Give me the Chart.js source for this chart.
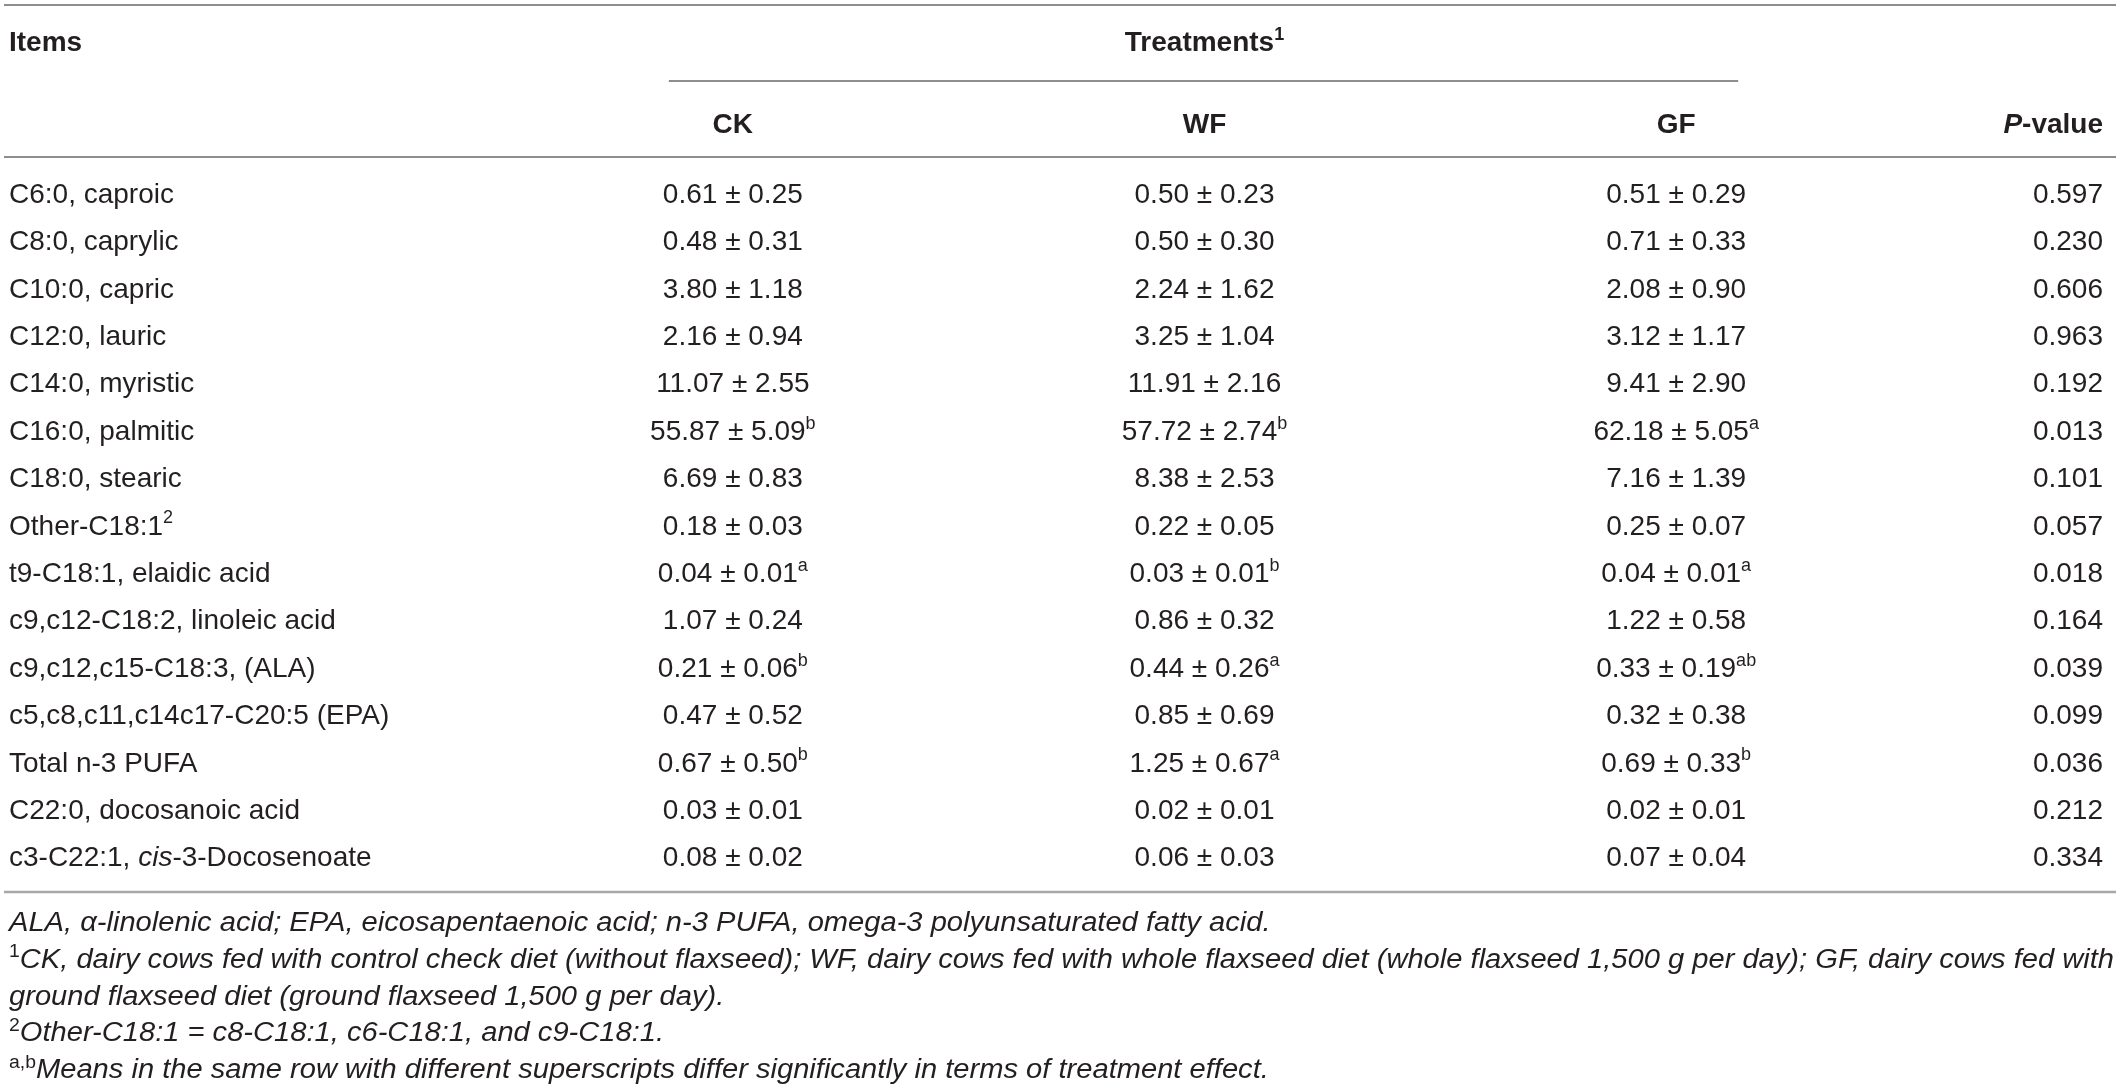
<!DOCTYPE html>
<html><head><meta charset="utf-8">
<script src="https://cdn.jsdelivr.net/npm/chart.js@4.4.1/dist/chart.umd.min.js"></script>
<style>html,body{margin:0;padding:0;background:#fff;} canvas{display:block;}</style>
</head><body>
<canvas id="c" width="2120" height="1090" style="width:2120px;height:1090px"></canvas>
<script>
// ---- data (markup: ^..^ superscript, _.._ italic, *..* bold) ----
const items = [
  'C6:0, caproic','C8:0, caprylic','C10:0, capric','C12:0, lauric','C14:0, myristic',
  'C16:0, palmitic','C18:0, stearic','Other-C18:1^2^','t9-C18:1, elaidic acid',
  'c9,c12-C18:2, linoleic acid','c9,c12,c15-C18:3, (ALA)','c5,c8,c11,c14c17-C20:5 (EPA)',
  'Total n-3 PUFA','C22:0, docosanoic acid','c3-C22:1, _cis_-3-Docosenoate'
];
const treatments = ['CK','WF','GF'];
const ckMean = [0.61,0.48,3.80,2.16,11.07,55.87,6.69,0.18,0.04,1.07,0.21,0.47,0.67,0.03,0.08];
const ckSD   = [0.25,0.31,1.18,0.94,2.55,5.09,0.83,0.03,0.01,0.24,0.06,0.52,0.50,0.01,0.02];
const ckSup  = ['','','','','','b','','','a','','b','','b','',''];
const wfMean = [0.50,0.50,2.24,3.25,11.91,57.72,8.38,0.22,0.03,0.86,0.44,0.85,1.25,0.02,0.06];
const wfSD   = [0.23,0.30,1.62,1.04,2.16,2.74,2.53,0.05,0.01,0.32,0.26,0.69,0.67,0.01,0.03];
const wfSup  = ['','','','','','b','','','b','','a','','a','',''];
const gfMean = [0.51,0.71,2.08,3.12,9.41,62.18,7.16,0.25,0.04,1.22,0.33,0.32,0.69,0.02,0.07];
const gfSD   = [0.29,0.33,0.90,1.17,2.90,5.05,1.39,0.07,0.01,0.58,0.19,0.38,0.33,0.01,0.04];
const gfSup  = ['','','','','','a','','','a','','ab','','b','',''];
const pValues = [0.597,0.230,0.606,0.963,0.192,0.013,0.101,0.057,0.018,0.164,0.039,0.099,0.036,0.212,0.334];
const headerItems = '*Items*';
const headerTreat = '*Treatments^1^*';
const headerP = '*_P_-value*';
const footnotes = [
  '_ALA, α-linolenic acid; EPA, eicosapentaenoic acid; n-3 PUFA, omega-3 polyunsaturated fatty acid._',
  '^1^_CK, dairy cows fed with control check diet (without flaxseed); WF, dairy cows fed with whole flaxseed diet (whole flaxseed 1,500 g per day); GF, dairy cows fed with_',
  '_ground flaxseed diet (ground flaxseed 1,500 g per day)._',
  '^2^_Other-C18:1 = c8-C18:1, c6-C18:1, and c9-C18:1._',
  '^a,b^_Means in the same row with different superscripts differ significantly in terms of treatment effect._'
];

const means = [ckMean, wfMean, gfMean];
const sds = [ckSD, wfSD, gfSD];
const sups = [ckSup, wfSup, gfSup];

// ---- styling ----
const FAMILY = '"Liberation Sans", Arial, Helvetica, sans-serif';
const TEXT = '#231f20';
const RULE = '#8e8e8e';
const BODY = 28, FOOT = 27;

function parse(str){
  const parts=[]; let b=false,i=false,s=false,buf='';
  const push=()=>{ if(buf){parts.push({t:buf,b,i,s}); buf='';} };
  for(const ch of str){
    if(ch==='*'){push(); b=!b;} else if(ch==='_'){push(); i=!i;} else if(ch==='^'){push(); s=!s;} else buf+=ch;
  }
  push(); return parts;
}
function fontOf(p,size){
  const sz = p.s ? Math.round(size*0.66) : size;
  return (p.i?'italic ':'')+(p.b?'bold ':'')+sz+'px '+FAMILY;
}
function measure(ctx,parts,size){
  let w=0; parts.forEach(p=>{ctx.font=fontOf(p,size); p.w=ctx.measureText(p.t).width; w+=p.w;}); return w;
}
function drawRich(ctx,str,x,yMid,align,size,sx){
  sx = sx||1;
  const parts=parse(str); const total=measure(ctx,parts,size)*sx;
  let cx = align==='left'?x:(align==='center'?x-total/2:x-total);
  const base = yMid + size*0.36;
  ctx.textBaseline='alphabetic'; ctx.textAlign='left';
  parts.forEach(p=>{
    ctx.font=fontOf(p,size);
    const y = p.s ? base - size*0.40 : base;
    ctx.save(); ctx.translate(cx,y); ctx.scale(sx,1); ctx.fillText(p.t,0,0); ctx.restore();
    cx += p.w*sx;
  });
}
function hline(ctx,x1,x2,y,w,c){
  ctx.save(); ctx.strokeStyle=c||RULE; ctx.lineWidth=w||2; ctx.beginPath(); ctx.moveTo(x1,y); ctx.lineTo(x2,y); ctx.stroke(); ctx.restore();
}

const tablePlugin = {
  id:'tableText',
  afterDatasetsDraw(chart){
    const ctx=chart.ctx, ys=chart.scales.y, xs=chart.scales.x, area=chart.chartArea;
    const W=chart.width;
    const leftX=9, rightX=W-17, ruleL=4, ruleR=W-4;
    ctx.save(); ctx.fillStyle=TEXT;
    // rules
    hline(ctx,ruleL,ruleR,5,2);
    const c0=xs.getPixelForValue(0), c2=xs.getPixelForValue(2), c1=xs.getPixelForValue(1);
    hline(ctx,c0-64,c2+62,81,2);
    hline(ctx,ruleL,ruleR,area.top-12,2);
    hline(ctx,ruleL,ruleR,area.bottom+12,2.5,'#a8a8a8');
    // headers
    drawRich(ctx,headerItems,leftX,41,'left',BODY);
    drawRich(ctx,headerTreat,c1,41,'center',BODY);
    treatments.forEach((t,ti)=>drawRich(ctx,'*'+t+'*',xs.getPixelForValue(ti),123,'center',BODY));
    drawRich(ctx,headerP,rightX,123,'right',BODY);
    // body: item labels and p-values on the y scale
    items.forEach((it,i)=>{
      const y=ys.getPixelForValue(i);
      drawRich(ctx,it,leftX,y,'left',BODY);
      drawRich(ctx,pValues[i].toFixed(3),rightX,y,'right',BODY);
    });
    // treatment cells from dataset elements
    chart.data.datasets.forEach((ds,di)=>{
      const meta=chart.getDatasetMeta(di);
      meta.data.forEach((el,i)=>{
        const txt = means[di][i].toFixed(2)+' ± '+sds[di][i].toFixed(2)+(sups[di][i]?'^'+sups[di][i]+'^':'');
        drawRich(ctx,txt,el.x,el.y,'center',BODY);
      });
    });
    // footnotes
    const p2=parse(footnotes[1]); const w2=measure(ctx,p2,FOOT);
    const sx=(ruleR-2-leftX)/w2;
    const f0=area.bottom+41, fStep=36.9;
    footnotes.forEach((f,k)=>drawRich(ctx,f,leftX,f0+k*fStep,'left',FOOT,sx));
    ctx.restore();
  }
};

new Chart(document.getElementById('c'),{
  type:'scatter',
  data:{datasets: treatments.map((t)=>({
    label:t,
    data: items.map((it)=>({x:t,y:it})),
    pointRadius:0, pointHoverRadius:0, showLine:false
  }))},
  options:{
    responsive:false, animation:false, events:[],
    layout:{padding:{left:497,right:208,top:169,bottom:210}},
    plugins:{legend:{display:false},tooltip:{enabled:false}},
    scales:{
      x:{type:'category',labels:treatments,offset:true,display:false},
      y:{type:'category',labels:items,offset:true,display:false}
    }
  },
  plugins:[tablePlugin]
});
</script>
</body></html>
